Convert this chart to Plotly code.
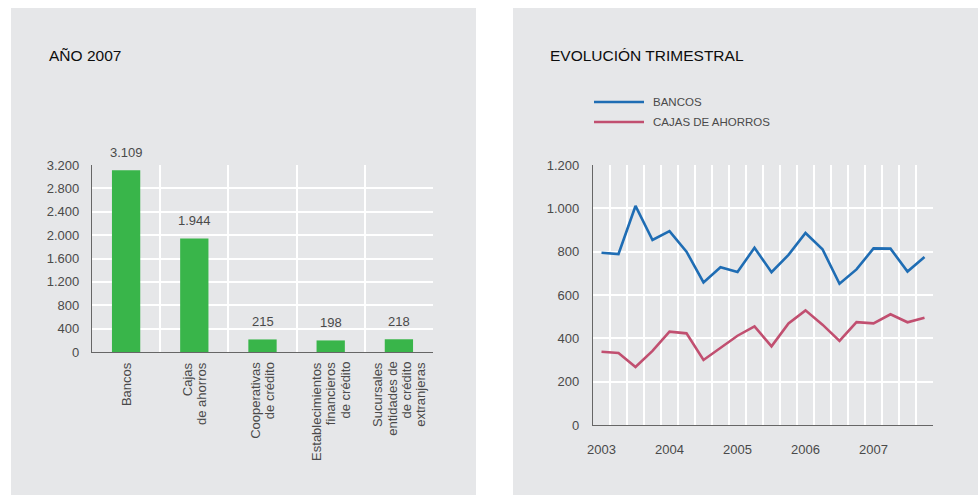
import plotly.graph_objects as go

W, H = 978, 495

# ---------------- data ----------------
categories = [
    "Bancos",
    "Cajas<br>de ahorros",
    "Cooperativas<br>de crédito",
    "Establecimientos<br>financieros<br>de crédito",
    "Sucursales<br>entidades de<br>de crédito<br>extranjeras",
]
values_2007 = [3109, 1944, 215, 198, 218]
bar_y_ticks = [0, 400, 800, 1200, 1600, 2000, 2400, 2800, 3200]

quarters = [f"{y} T{q}" for y in range(2003, 2008) for q in range(1, 5)]
bancos = [795, 789, 1011, 854, 895, 800, 658, 728, 706, 818,
          705, 785, 886, 811, 652, 718, 815, 814, 708, 775]
cajas = [338, 332, 268, 342, 431, 423, 300, 354, 412, 455,
         363, 469, 529, 463, 388, 475, 469, 511, 474, 495]
year_labels = ["2003", "2004", "2005", "2006", "2007"]
line_y_ticks = [0, 200, 400, 600, 800, 1000, 1200]

# ---------------- styles ----------------
PANEL = "#e6e7e9"
GRID = "#ffffff"
AXIS = "#666666"
TXT = "#4a4a4a"
GREEN = "#39b54a"
BLUE = "#1f6db4"
PINK = "#c14f70"
FONT = "Liberation Sans, Arial, sans-serif"


def px(x):
    return x / W


def py(y):
    return 1 - y / H


fig = go.Figure()

# bar chart
xb = list(range(len(categories)))
fig.add_trace(go.Bar(x=xb, y=values_2007, width=0.415, marker_color=GREEN,
                     marker_line_width=0, xaxis="x", yaxis="y",
                     showlegend=False, hoverinfo="y"))

# line chart
xl = list(range(len(quarters)))
fig.add_trace(go.Scatter(x=xl, y=bancos, mode="lines", name="BANCOS",
                         line=dict(color=BLUE, width=2.6), xaxis="x2", yaxis="y2",
                         showlegend=False, text=quarters))
fig.add_trace(go.Scatter(x=xl, y=cajas, mode="lines", name="CAJAS DE AHORROS",
                         line=dict(color=PINK, width=2.6), xaxis="x2", yaxis="y2",
                         showlegend=False, text=quarters))

shapes = [
    dict(type="rect", xref="paper", yref="paper", x0=px(11), x1=px(476),
         y0=py(8), y1=py(495), fillcolor=PANEL, line_width=0, layer="below"),
    dict(type="rect", xref="paper", yref="paper", x0=px(513), x1=px(978),
         y0=py(8), y1=py(495), fillcolor=PANEL, line_width=0, layer="below"),
]

annotations = [
    dict(text="AÑO 2007", xref="paper", yref="paper", x=px(47), y=py(55),
         xanchor="left", yanchor="middle", showarrow=False,
         font=dict(size=15.5, color="#0d0d0d", family=FONT)),
    dict(text="EVOLUCIÓN TRIMESTRAL", xref="paper", yref="paper", x=px(548), y=py(55),
         xanchor="left", yanchor="middle", showarrow=False,
         font=dict(size=15.5, color="#0d0d0d", family=FONT)),
]

# value labels over bars
for xi, v in zip(xb, values_2007):
    annotations.append(dict(text=f"{v:,}".replace(",", "."), x=xi, y=v, xref="x", yref="y",
                            xanchor="center", yanchor="bottom", yshift=8, showarrow=False,
                            font=dict(size=13, color=TXT, family=FONT)))

# rotated category labels (one annotation per line, ends aligned at the axis)
LINE_GAP = 14.3
for xi, lab in zip(xb, categories):
    lines = lab.split("<br>")
    n = len(lines)
    for i, ln in enumerate(lines):
        annotations.append(dict(text=ln, x=xi, y=py(361), xref="x", yref="paper",
                                textangle=-90, xanchor="center", yanchor="top",
                                xshift=(i - (n - 1) / 2) * LINE_GAP, showarrow=False,
                                borderpad=0,
                                font=dict(size=13, color=TXT, family=FONT)))

# manual legend
legend_items = [("BANCOS", BLUE, 102), ("CAJAS DE AHORROS", PINK, 122)]
for name, col, yy in legend_items:
    shapes.append(dict(type="line", xref="paper", yref="paper", x0=px(594), x1=px(644),
                       y0=py(yy), y1=py(yy), line=dict(color=col, width=2.6)))
    annotations.append(dict(text=name, xref="paper", yref="paper", x=px(651), y=py(yy),
                            xanchor="left", yanchor="middle", showarrow=False,
                            font=dict(size=11.5, color=TXT, family=FONT)))

fig.update_layout(
    width=W, height=H, autosize=False,
    margin=dict(l=0, r=0, t=0, b=0, pad=0),
    paper_bgcolor="white", plot_bgcolor=PANEL,
    separators=",.",
    font=dict(family=FONT, size=13, color=TXT),
    shapes=shapes, annotations=annotations,
    xaxis=dict(domain=[px(92), px(433)], range=[-0.5, len(categories) - 0.5],
               showgrid=False, showticklabels=False, ticks="", zeroline=False,
               showline=True, linecolor=AXIS, linewidth=1.3, automargin=False,
               minor=dict(tick0=0.5, dtick=1, showgrid=True, gridcolor=GRID,
                          gridwidth=2, ticks="")),
    yaxis=dict(domain=[py(352), py(165)], range=[0, 3200], tickvals=bar_y_ticks,
               tickformat=",d", showgrid=True, gridcolor=GRID, gridwidth=2,
               zeroline=False, showline=True, linecolor=AXIS, linewidth=1.3,
               ticks="", ticklabelstandoff=9, automargin=False,
               tickfont=dict(size=13, color=TXT, family=FONT)),
    xaxis2=dict(domain=[px(593), px(933)], range=[-0.5, len(quarters) - 0.5],
                anchor="y2", tickvals=[i for i in xl if i % 4 == 0], ticktext=year_labels,
                showgrid=False, zeroline=False, ticks="", ticklabelstandoff=12,
                showline=True, linecolor=AXIS, linewidth=1.3, automargin=False,
                tickfont=dict(size=13, color=TXT, family=FONT),
                minor=dict(tick0=0.5, dtick=1, showgrid=True, gridcolor=GRID,
                           gridwidth=2, ticks="")),
    yaxis2=dict(domain=[py(425), py(165)], range=[0, 1200], anchor="x2",
                tickvals=line_y_ticks, tickformat=",d", showgrid=True, gridcolor=GRID,
                gridwidth=2, zeroline=False, showline=True, linecolor=AXIS,
                linewidth=1.3, ticks="", ticklabelstandoff=10, automargin=False,
                tickfont=dict(size=13, color=TXT, family=FONT)),
)

POST = (
    "document.documentElement.style.margin='0';"
    "document.documentElement.style.padding='0';"
    "document.documentElement.style.overflow='hidden';"
    "document.body.style.margin='0';"
    "document.body.style.padding='0';"
    "document.body.style.overflow='hidden';"
    "var d=document.getElementById('{plot_id}');"
    "d.style.position='fixed';d.style.left='0px';d.style.top='0px';"
)

fig.write_html("out.html", config={"displayModeBar": False}, post_script=POST)
